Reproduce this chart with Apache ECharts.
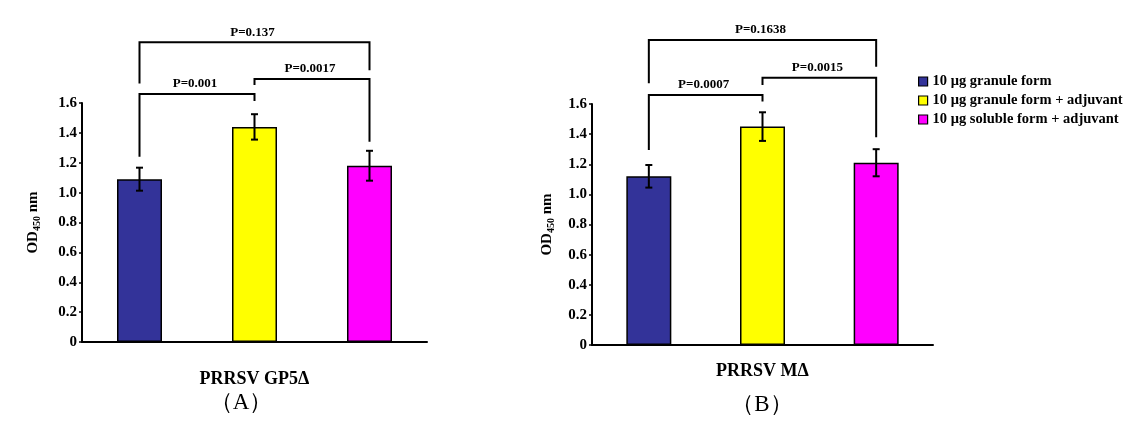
<!DOCTYPE html>
<html>
<head>
<meta charset="utf-8">
<script src="https://cdn.jsdelivr.net/npm/echarts@6/dist/echarts.min.js"></script>
<style>
html,body{margin:0;padding:0;background:#fff;}
#chart{width:1132px;height:429px;}
</style>
</head>
<body>
<div id="chart"></div>
<script>
const categories = ['10 μg granule form', '10 μg granule form + adjuvant', '10 μg soluble form + adjuvant'];
const colors = ['#333399', '#ffff00', '#ff00ff'];
const meansA = [1.09, 1.44, 1.18];
const errA = [0.077, 0.085, 0.10];
const meansB = [1.12, 1.45, 1.21];
const errB = [0.075, 0.095, 0.09];
const yTicks = [0, 0.2, 0.4, 0.6, 0.8, 1.0, 1.2, 1.4, 1.6];
const bracketPairs = [[0, 1], [1, 2], [0, 2]];
const bracketLabelsA = ['P=0.001', 'P=0.0017', 'P=0.137'];
const bracketTopA = [1.66, 1.76, 2.006];
const bracketLeftEndA = [1.24, 1.72, 1.73];
const bracketRightEndA = [1.613, 1.34, 1.82];
const bracketLabelsB = ['P=0.0007', 'P=0.0015', 'P=0.1638'];
const bracketTopB = [1.66, 1.775, 2.025];
const bracketLeftEndB = [1.295, 1.726, 1.738];
const bracketRightEndB = [1.616, 1.379, 1.848];
const xTitles = ['PRRSV GP5Δ', 'PRRSV MΔ'];
const panelLabels = ['（A）', '（B）'];

const FONT = '"Liberation Serif", "Times New Roman", serif';
const chart = echarts.init(document.getElementById('chart'));

function makeAxes(g, nameGapX, nameGapY) {
  return {
    x: {
      type: 'category', gridIndex: g, data: categories,
      axisLine: {lineStyle: {color: '#000', width: 2}},
      axisTick: {inside: true, length: 4, lineStyle: {color: '#000', width: 1.5}},
      axisLabel: {show: false},
      name: xTitles[g], nameLocation: 'middle', nameGap: nameGapX,
      nameTextStyle: {fontFamily: FONT, fontWeight: 'bold', fontSize: 18, color: '#000'}
    },
    y: {
      type: 'value', gridIndex: g, min: 0, max: 1.6, interval: 0.2,
      splitLine: {show: false},
      axisLine: {show: true, lineStyle: {color: '#000', width: 2}},
      axisTick: {show: true, length: 3, lineStyle: {color: '#000', width: 1.5}},
      axisLabel: {
        margin: 5, color: '#000', fontFamily: FONT, fontWeight: 'bold', fontSize: 15,
        formatter: v => v === 0 ? '0' : v.toFixed(1)
      },
      name: '{a|OD}{b|450}{a| nm}', nameLocation: 'middle', nameRotate: 90, nameGap: nameGapY,
      nameTextStyle: {
        rich: {
          a: {fontFamily: FONT, fontWeight: 'bold', fontSize: 15, color: '#000'},
          b: {fontFamily: FONT, fontWeight: 'bold', fontSize: 10, color: '#000', padding: [7, 0, 0, 0]}
        }
      }
    }
  };
}

const axA = makeAxes(0, 28, 40), axB = makeAxes(1, 17, 36);

function barSeries(g, means) {
  return categories.map((c, i) => ({
    type: 'bar', name: c, xAxisIndex: g, yAxisIndex: g,
    data: categories.map((_, j) => j === i ? means[i] : '-'),
    barWidth: 45, barGap: '-100%',
    itemStyle: {color: colors[i], borderColor: '#000', borderWidth: 1.5},
    emphasis: {disabled: true}
  }));
}

function errSeries(g, means, errs) {
  return {
    type: 'custom', xAxisIndex: g, yAxisIndex: g, z: 5,
    data: means.map((m, i) => [i, m, errs[i]]),
    renderItem: function (params, api) {
      const x = api.value(0), m = api.value(1), e = api.value(2);
      const hi = api.coord([x, m + e]), lo = api.coord([x, m - e]);
      const w = 3.5;
      const st = {stroke: '#000', lineWidth: 2};
      return {type: 'group', children: [
        {type: 'line', shape: {x1: hi[0], y1: hi[1], x2: lo[0], y2: lo[1]}, style: st},
        {type: 'line', shape: {x1: hi[0] - w, y1: hi[1], x2: hi[0] + w, y2: hi[1]}, style: st},
        {type: 'line', shape: {x1: lo[0] - w, y1: lo[1], x2: lo[0] + w, y2: lo[1]}, style: st}
      ]};
    }
  };
}

function bracketSeries(g, labels, tops, lefts, rights) {
  return {
    type: 'custom', xAxisIndex: g, yAxisIndex: g, z: 6, clip: false,
    data: bracketPairs.map((p, i) => [p[0], p[1], tops[i], lefts[i], rights[i]]),
    renderItem: function (params, api) {
      const i = params.dataIndex;
      const a = api.value(0), b = api.value(1), t = api.value(2), l = api.value(3), r = api.value(4);
      const tl = api.coord([a, t]), tr = api.coord([b, t]);
      const le = api.coord([a, l]), re = api.coord([b, r]);
      const st = {stroke: '#000', lineWidth: 2, fill: null};
      return {type: 'group', children: [
        {type: 'polyline', shape: {points: [le, tl, tr, re]}, style: st},
        {type: 'text', x: (tl[0] + tr[0]) / 2 - 2, y: tl[1] - 10,
         style: {text: labels[i], fill: '#000', font: 'bold 13px ' + FONT, align: 'center', verticalAlign: 'middle'}}
      ]};
    }
  };
}

const option = {
  backgroundColor: '#fff',
  animation: false,
  grid: [
    {left: 82, top: 103, width: 345, height: 239},
    {left: 592, top: 104, width: 341, height: 241}
  ],
  xAxis: [axA.x, axB.x],
  yAxis: [axA.y, axB.y],
  legend: {
    orient: 'vertical', left: 913, top: 69, itemWidth: 9, itemHeight: 9, itemGap: 4,
    icon: 'rect', selectedMode: false, itemStyle: {borderWidth: 1.2},
    textStyle: {fontFamily: FONT, fontWeight: 'bold', fontSize: 14.5, color: '#000'},
    data: categories
  },
  graphic: [
    {type: 'text', x: 241, y: 403, style: {text: panelLabels[0], font: '23px ' + FONT, fill: '#000', align: 'center', verticalAlign: 'middle'}},
    {type: 'text', x: 762, y: 405, style: {text: panelLabels[1], font: '23px ' + FONT, fill: '#000', align: 'center', verticalAlign: 'middle'}}
  ],
  series: [
    ...barSeries(0, meansA),
    errSeries(0, meansA, errA),
    bracketSeries(0, bracketLabelsA, bracketTopA, bracketLeftEndA, bracketRightEndA),
    ...barSeries(1, meansB),
    errSeries(1, meansB, errB),
    bracketSeries(1, bracketLabelsB, bracketTopB, bracketLeftEndB, bracketRightEndB)
  ]
};
chart.setOption(option);
</script>
</body>
</html>
